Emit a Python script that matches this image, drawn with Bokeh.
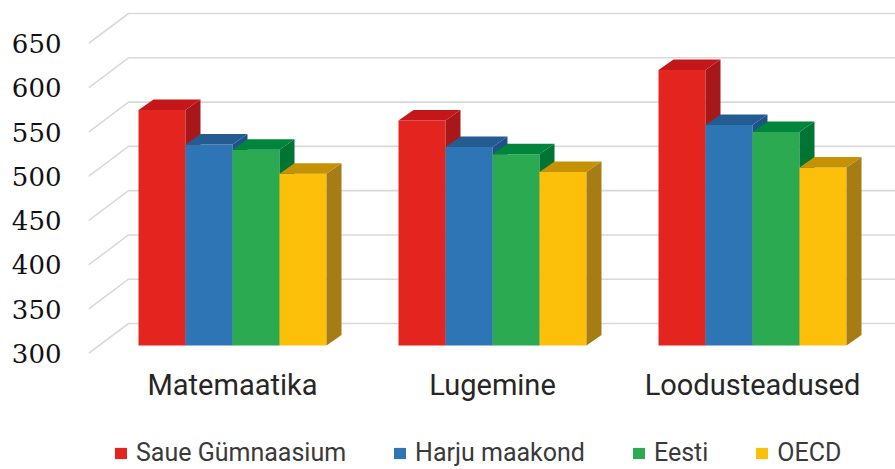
from bokeh.plotting import figure
from bokeh.layouts import column
from bokeh.models import FixedTicker, Legend, LegendItem, Range1d
from bokeh.embed import file_html
from bokeh.resources import INLINE

# ---- data ----
categories = ["Matemaatika", "Lugemine", "Loodusteadused"]
series_names = ["Saue Gümnaasium", "Harju maakond", "Eesti", "OECD"]
saue = [566, 554, 611]
harju = [527, 524, 549]
eesti = [521, 516, 541]
oecd = [494, 496, 501]
y_ticks = [300, 350, 400, 450, 500, 550, 600, 650]

series_values = [saue, harju, eesti, oecd]
front_colors = ["#e3241f", "#2e75b6", "#2baa52", "#fcc00b"]
top_colors = ["#c4171a", "#245b91", "#00853c", "#c59205"]
side_colors = ["#a8181a", "#1f5286", "#007433", "#a67c14"]

# ---- projection helpers (screen px -> data units) ----
W = 895
LEFT = 88
FW, FH = W - LEFT, 353
PX_X = 1 / 260.0          # x data units per pixel
PX_Y = 1 / 0.8857         # y data units per pixel
X0 = -144 * PX_X
X1 = X0 + FW * PX_X
Y0 = 300
Y1 = Y0 + FH * PX_Y

WALL_DX, WALL_DY = 40 * PX_X, 30 * PX_Y
BAR_W = 47 * PX_X
BASE = Y0 + 8 * PX_Y
BDX, BDY = 15 * PX_X, 10.5 * PX_Y

TOP_H = 410
LEG_H = 469 - TOP_H

p = figure(width=W, height=TOP_H, output_backend="svg", toolbar_location=None,
           x_range=Range1d(X0, X1), y_range=Range1d(Y0, Y1),
           min_border_left=LEFT, min_border_right=0, min_border_top=0,
           min_border_bottom=TOP_H - FH)
p.outline_line_color = None
p.xgrid.visible = False
p.ygrid.visible = False

# gridlines: diagonal on the left side wall + horizontal on back wall
gx, gy = [], []
for v in y_ticks:
    gx.append([X0, X0 + WALL_DX, X1])
    gy.append([v, v + WALL_DY, v + WALL_DY])
p.multi_line(gx, gy, line_color="#d9d9d9", line_width=1.6)

n = len(series_values)
bar_lefts = []
for k, vals in enumerate(series_values):
    lefts = [i - n / 2 * BAR_W + k * BAR_W for i in range(len(categories))]
    bar_lefts.append(lefts)
    rights = [l + BAR_W for l in lefts]
    tops = [v + (BASE - Y0) for v in vals]
    p.quad(left=lefts, right=rights, bottom=[BASE] * len(vals), top=tops,
           fill_color=front_colors[k], line_color=None)
    txs, tys, sxs, sys_ = [], [], [], []
    for l, rr, t in zip(lefts, rights, tops):
        txs.append([l, l + BDX, rr + BDX, rr])
        tys.append([t, t + BDY, t + BDY, t])
        sxs.append([rr, rr + BDX, rr + BDX, rr])
        sys_.append([BASE, BASE + BDY, t + BDY, t])
    p.patches(txs, tys, fill_color=top_colors[k], line_color=None)
    p.patches(sxs, sys_, fill_color=side_colors[k], line_color=None)

# axes
p.yaxis.ticker = FixedTicker(ticks=y_ticks)
p.yaxis.major_label_text_font = "DejaVu Serif"
p.yaxis.major_label_text_font_size = "26px"
p.yaxis.major_label_text_color = "#111111"
p.yaxis.major_label_standoff = 27
p.yaxis.axis_line_color = None
p.yaxis.major_tick_out = 0
p.yaxis.major_tick_in = 0
p.yaxis.minor_tick_out = 0
p.yaxis.minor_tick_in = 0

p.xaxis.ticker = FixedTicker(ticks=list(range(len(categories))))
p.xaxis.major_label_overrides = {i: c for i, c in enumerate(categories)}
p.xaxis.major_label_text_font = "Roboto"
p.xaxis.major_label_text_font_size = "29px"
p.xaxis.major_label_text_color = "#262626"
p.xaxis.major_label_standoff = 14
p.xaxis.axis_line_color = None
p.xaxis.major_tick_out = 0
p.xaxis.major_tick_in = 0
p.xaxis.minor_tick_out = 0
p.xaxis.minor_tick_in = 0

# ---- legend strip (its renderers lie outside the strip's visible ranges) ----
p2 = figure(width=W, height=LEG_H, output_backend="svg", toolbar_location=None,
            x_axis_type=None, y_axis_type=None,
            x_range=Range1d(100, 101), y_range=Range1d(0, 1),
            min_border_left=0, min_border_right=0, min_border_top=0, min_border_bottom=0)
p2.outline_line_color = None
p2.xgrid.visible = False
p2.ygrid.visible = False
items = []
for k, name in enumerate(series_names):
    lefts = bar_lefts[k]
    r = p2.quad(left=lefts, right=[l + BAR_W for l in lefts], bottom=[BASE] * 3,
                top=series_values[k], fill_color=front_colors[k], line_color=None)
    items.append(LegendItem(label=name, renderers=[r]))
legend = Legend(items=items, orientation="horizontal", location=(25, 2),
                glyph_width=15, glyph_height=14, label_text_font="Roboto",
                label_text_font_size="25px", label_text_color="#3a3a3a",
                spacing=46, padding=0, margin=0, label_standoff=8,
                border_line_color=None, background_fill_alpha=0)
p2.add_layout(legend, "center")

layout = column(p, p2, spacing=0)
open("out.html", "w").write(file_html(layout, INLINE))
